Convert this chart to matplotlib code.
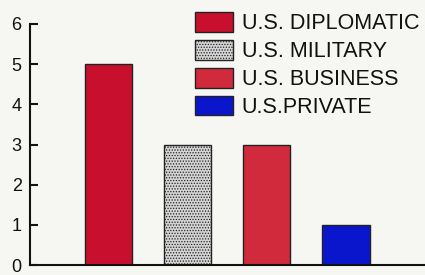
import matplotlib
matplotlib.use("Agg")
import matplotlib.pyplot as plt

categories = ["U.S. DIPLOMATIC", "U.S. MILITARY", "U.S. BUSINESS", "U.S.PRIVATE"]
values = [5, 3, 3, 1]
colors = ["#c8102e", "#d4d4d4", "#d12a3d", "#0a16cc"]
yticks = [0, 1, 2, 3, 4, 5, 6]

plt.rcParams['font.family'] = ['Liberation Sans', 'DejaVu Sans']
plt.rcParams['hatch.color'] = "#b4b4b4"
plt.rcParams['hatch.linewidth'] = 0.6
bg = "#f6f6f2"
fig = plt.figure(figsize=(4.25, 2.75), dpi=100, facecolor=bg)
ax = fig.add_axes([0.0706, 0.036, 0.9294, 0.877], facecolor=bg)

x = list(range(len(values)))
bars = ax.bar(x, values, width=0.6, color=colors, edgecolor="#222222", linewidth=1.0)
bars[1].set_hatch("......")

ax.set_xlim(-0.99, 4.0)
ax.set_ylim(0, 6)
ax.set_yticks(yticks)
ax.set_xticks([])
for s in ["top", "right"]:
    ax.spines[s].set_visible(False)
for s in ["left", "bottom"]:
    ax.spines[s].set_linewidth(1.5)
    ax.spines[s].set_color("#111111")
ax.tick_params(axis="y", direction="in", length=6, width=1.5, pad=6,
               labelsize=13, colors="#111111")

leg = ax.legend(bars, categories, loc="upper left", bbox_to_anchor=(0.459, 0.956),
                bbox_transform=fig.transFigure,
                frameon=False, fontsize=15.5, handlelength=1.75, handleheight=1.02,
                handletextpad=0.42, labelspacing=0.27, borderaxespad=0, borderpad=0)
for t in leg.get_texts():
    t.set_color("#111111")

fig.savefig("out.png", dpi=100, facecolor=bg)
